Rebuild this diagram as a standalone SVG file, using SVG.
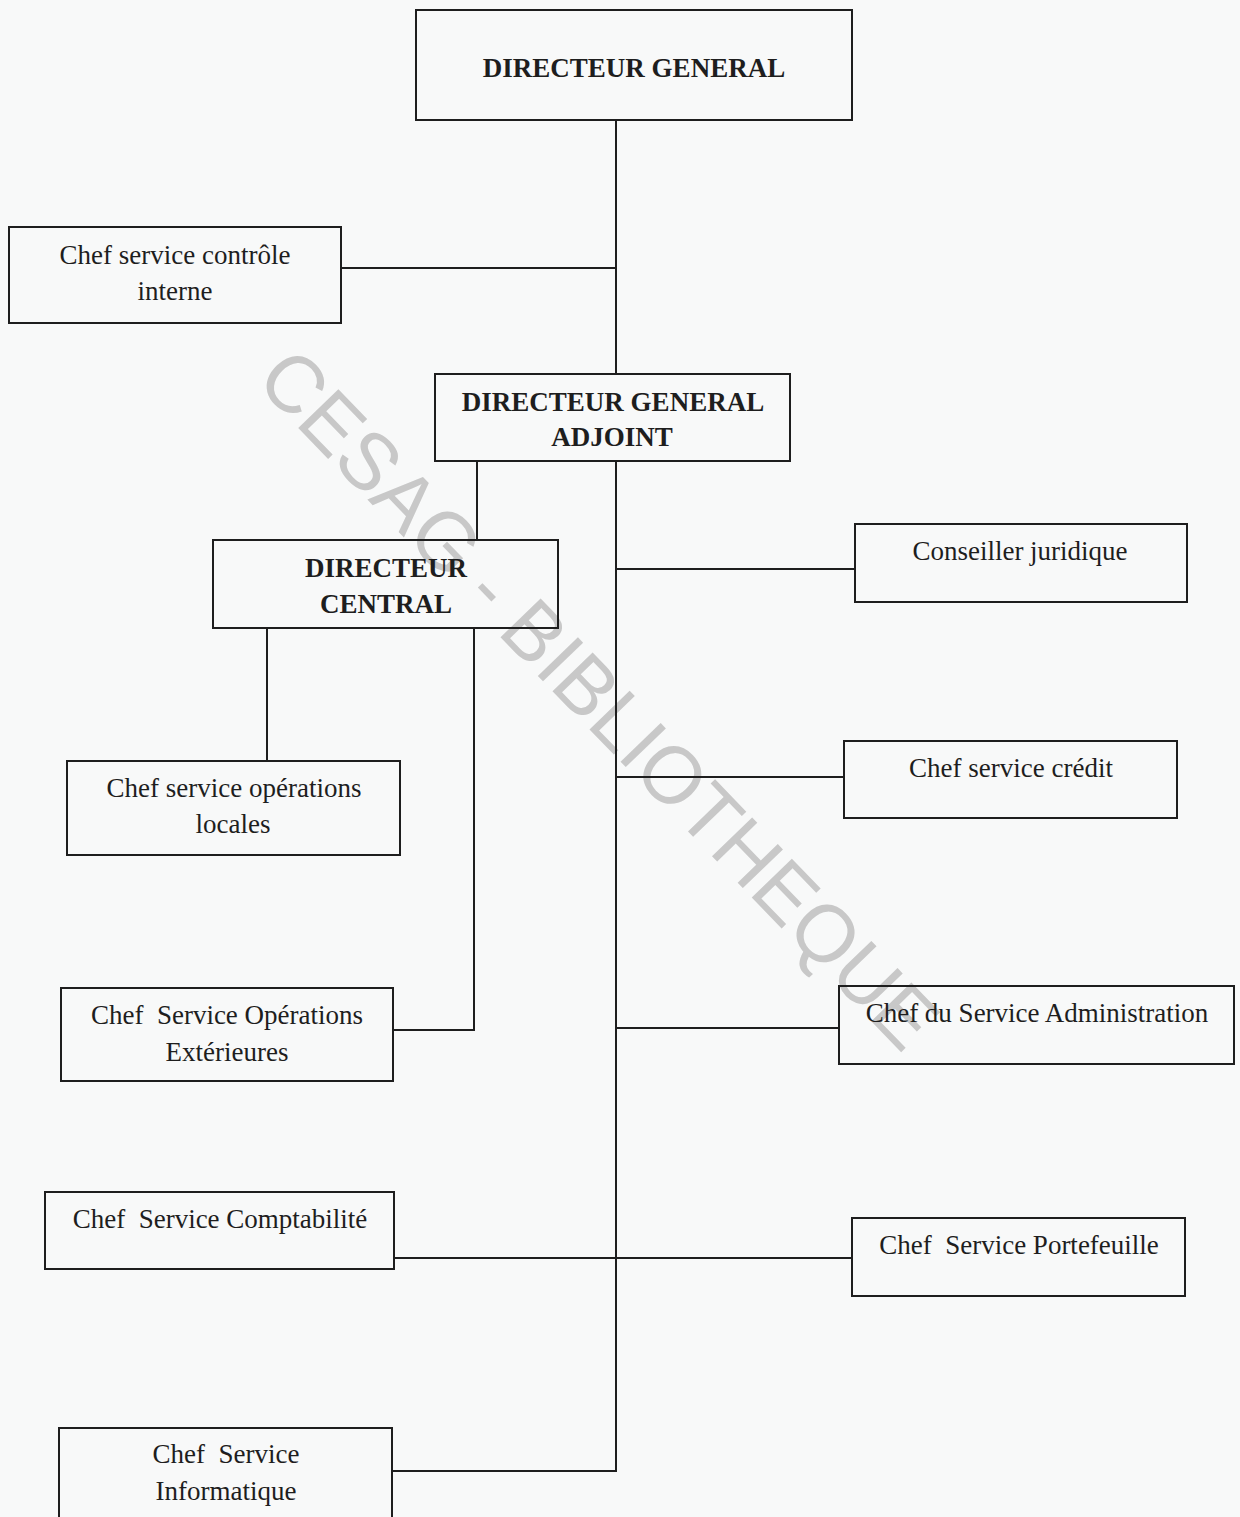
<svg xmlns="http://www.w3.org/2000/svg" width="1240" height="1517" viewBox="0 0 1240 1517">
<style>
.box{fill:none;stroke:#1e1e1e;stroke-width:2}
.t{font-family:"Liberation Serif","Times New Roman",serif;font-size:27px;fill:#1e1e1e;text-anchor:middle}
.b{font-weight:bold}
.c{fill:none;stroke:#1e1e1e;stroke-width:2}
.wm{font-family:"Liberation Sans",Arial,sans-serif;font-size:81px;fill:#c8c8c8}
</style>
<rect x="0" y="0" width="1240" height="1517" fill="#f8f9f9"/>
<g id="watermark">
<text class="wm" transform="translate(254,382) rotate(46)" textLength="935" lengthAdjust="spacingAndGlyphs">CESAG - BIBLIOTHEQUE</text>
</g>
<g id="connectors">
<path class="c" d="M616,120 V374"/>
<path class="c" d="M341,268 H616"/>
<path class="c" d="M477,461 V540"/>
<path class="c" d="M616,461 V1471 H392"/>
<path class="c" d="M616,569 H855"/>
<path class="c" d="M616,777 H844"/>
<path class="c" d="M616,1028 H839"/>
<path class="c" d="M394,1258 H852"/>
<path class="c" d="M267,628 V761"/>
<path class="c" d="M474,628 V1030 H393"/>
</g>
<g id="dg">
<rect class="box" x="416" y="10" width="436" height="110"/>
<text class="t b" x="634" y="77" font-size="25.3">DIRECTEUR GENERAL</text>
</g>
<g id="controle">
<rect class="box" x="9" y="227" width="332" height="96"/>
<text class="t" x="175" y="264">Chef service contrôle</text>
<text class="t" x="175" y="300">interne</text>
</g>
<g id="dga">
<rect class="box" x="435" y="374" width="355" height="87"/>
<text class="t b" x="613" y="411" font-size="27.6">DIRECTEUR GENERAL</text>
<text class="t b" x="612" y="446" font-size="27.6">ADJOINT</text>
</g>
<g id="dc">
<rect class="box" x="213" y="540" width="345" height="88"/>
<text class="t b" x="386" y="577">DIRECTEUR</text>
<text class="t b" x="386" y="613">CENTRAL</text>
</g>
<g id="juridique">
<rect class="box" x="855" y="524" width="332" height="78"/>
<text class="t" x="1020" y="560">Conseiller juridique</text>
</g>
<g id="locales">
<rect class="box" x="67" y="761" width="333" height="94"/>
<text class="t" x="234" y="797">Chef service opérations</text>
<text class="t" x="233" y="833">locales</text>
</g>
<g id="credit">
<rect class="box" x="844" y="741" width="333" height="77"/>
<text class="t" x="1011" y="777">Chef service crédit</text>
</g>
<g id="exterieures">
<rect class="box" x="61" y="988" width="332" height="93"/>
<text class="t" x="227" y="1024" xml:space="preserve">Chef  Service Opérations</text>
<text class="t" x="227" y="1061">Extérieures</text>
</g>
<g id="administration">
<rect class="box" x="839" y="986" width="395" height="78"/>
<text class="t" x="1037" y="1022">Chef du Service Administration</text>
</g>
<g id="comptabilite">
<rect class="box" x="45" y="1192" width="349" height="77"/>
<text class="t" x="220" y="1228" xml:space="preserve">Chef  Service Comptabilité</text>
</g>
<g id="portefeuille">
<rect class="box" x="852" y="1218" width="333" height="78"/>
<text class="t" x="1019" y="1254" xml:space="preserve">Chef  Service Portefeuille</text>
</g>
<g id="informatique">
<rect class="box" x="59" y="1428" width="333" height="95"/>
<text class="t" x="226" y="1463" xml:space="preserve">Chef  Service</text>
<text class="t" x="226" y="1500">Informatique</text>
</g>
</svg>
